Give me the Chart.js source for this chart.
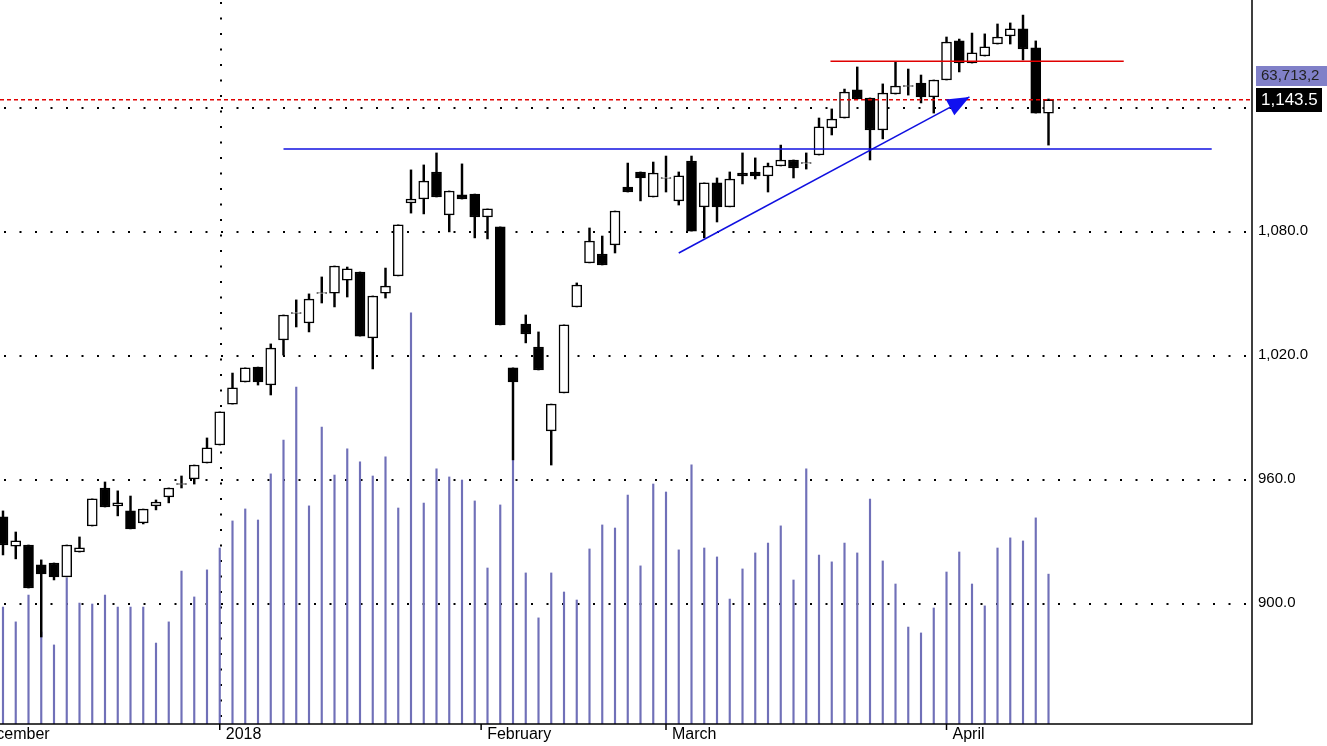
<!DOCTYPE html>
<html><head><meta charset="utf-8">
<script src="https://cdn.jsdelivr.net/npm/chart.js@4/dist/chart.umd.min.js"></script>
<style>html,body{margin:0;padding:0;background:#fff}#wrap{width:1327px;height:746px}</style>
</head><body><div id="wrap"><canvas id="c" width="1327" height="746"></canvas></div>
<script>
const opens=[941.7,927.6,928.1,918.5,919.4,912.7,924.7,937.3,955.7,947.0,944.6,938.8,947.0,951.4,957.4,960.1,967.8,976.5,996.3,1007.0,1014.2,1005.5,1027.3,1040.2,1035.5,1049.8,1050.0,1056.3,1060.2,1028.3,1050.0,1058.3,1093.6,1095.5,1108.6,1087.8,1097.5,1097.9,1086.8,1082.0,1013.8,1035.0,1023.9,983.3,1001.7,1043.3,1064.6,1068.9,1073.3,1101.3,1108.6,1096.5,1105.5,1094.6,1113.9,1091.7,1103.3,1091.7,1108.1,1108.6,1106.7,1111.5,1114.4,1112.7,1116.8,1129.9,1134.7,1148.3,1144.4,1128.9,1146.3,1150.0,1151.6,1144.9,1153.1,1172.0,1161.3,1164.7,1170.5,1174.4,1177.8,1168.6,1137.1];
const highs=[944.6,934.4,928.1,920.9,919.4,928.1,932.0,950.4,958.6,954.3,951.8,945.5,949.9,955.7,961.5,966.8,979.9,992.5,1011.3,1013.8,1014.2,1025.4,1039.4,1046.7,1049.6,1057.8,1063.1,1062.6,1060.2,1048.6,1062.1,1083.0,1109.6,1112.0,1117.8,1099.4,1112.5,1097.9,1090.7,1082.0,1013.8,1039.4,1031.2,996.3,1034.6,1054.9,1081.5,1077.6,1089.7,1112.9,1108.6,1113.4,1116.3,1108.6,1116.3,1103.3,1105.7,1108.6,1117.8,1115.4,1112.9,1121.6,1114.4,1117.8,1134.7,1139.1,1148.7,1159.4,1144.4,1151.2,1161.8,1158.4,1155.5,1153.1,1173.9,1172.9,1175.8,1175.4,1180.2,1180.7,1184.5,1172.0,1143.9];
const lows=[923.3,921.4,907.3,883.6,911.2,912.7,924.7,937.3,946.5,942.2,935.9,938.3,945.1,948.5,955.7,957.6,967.8,976.5,996.3,1007.0,1005.5,1000.7,1020.0,1033.6,1031.2,1045.2,1043.3,1048.1,1029.2,1013.3,1047.6,1058.3,1088.7,1088.3,1096.5,1079.6,1095.5,1076.7,1076.2,1034.6,969.3,1025.9,1012.8,966.8,1001.7,1043.3,1064.6,1063.6,1069.4,1098.9,1094.6,1096.5,1098.9,1092.6,1080.0,1076.7,1084.4,1091.7,1102.8,1105.2,1098.9,1111.5,1105.7,1110.0,1116.8,1126.5,1134.7,1143.9,1114.4,1124.6,1146.3,1145.8,1142.0,1137.1,1153.1,1157.0,1161.3,1164.7,1170.5,1170.5,1162.8,1137.1,1121.6];
const closes=[928.1,930.1,907.3,914.1,912.7,928.1,926.7,950.4,946.5,948.5,935.9,945.5,948.9,955.7,957.8,966.8,975.1,992.5,1004.1,1013.8,1007.0,1023.4,1039.4,1040.6,1047.1,1050.2,1063.1,1061.7,1029.2,1048.6,1053.4,1083.0,1095.5,1104.2,1096.5,1099.4,1095.5,1086.8,1090.7,1034.6,1007.0,1030.2,1012.8,996.3,1034.6,1053.9,1075.2,1063.6,1089.7,1098.9,1105.7,1108.1,1105.9,1106.7,1080.0,1103.3,1091.7,1105.2,1106.7,1106.7,1111.5,1114.4,1110.5,1113.1,1130.4,1134.2,1147.3,1143.9,1128.9,1146.8,1150.2,1150.4,1144.9,1153.1,1171.5,1161.3,1166.2,1169.1,1173.9,1177.8,1168.1,1137.1,1143.5];
const volumes=[49.7,43.4,54.8,39.1,33.6,62.1,51.4,51.0,54.8,49.7,49.7,49.7,34.4,43.4,65.0,54.0,65.5,74.8,86.3,91.4,86.7,106.3,120.7,143.2,92.7,126.2,105.8,116.9,111.4,105.4,113.5,91.8,174.7,93.9,108.4,105.0,103.7,94.8,66.3,93.1,112.2,64.2,45.1,64.2,56.1,52.7,74.4,84.6,83.3,97.3,67.2,102.0,98.6,74.0,110.1,74.8,71.0,53.1,65.9,72.7,76.9,84.2,61.2,108.4,71.8,68.9,76.9,72.7,95.6,69.3,59.5,41.2,38.7,49.3,64.6,73.1,59.5,50.2,74.8,79.1,77.8,87.6,63.7];
const monthLabels=["December","2018","February","March","April"];
const monthTickIdx=[-2.6,17,37.5,52,74];
const priceTicks=[900,960,1020,1080,1140];
const lastVolumeLabel="63,713,2";
const lastPriceLabel="1,143.5";
const lastPrice=1143.5;
const resistanceLevel=1162.2, supportLevel=1119.7;
const trendFrom=[53.0,1069.4], trendTo=[75.8,1144.9];

const idx=opens.map((_,i)=>i);
const bodies=idx.map(i=>({x:i,y:[opens[i],closes[i]]}));
const wicks=idx.map(i=>({x:i,y:[lows[i],highs[i]]}));
const vols=idx.map(i=>({x:i,y:volumes[i]}));
const bodyColors=idx.map(i=>closes[i]>=opens[i]?'#ffffff':'#000000');

const deco={id:'deco',
 beforeDatasetsDraw(ch){const c=ch.ctx,a=ch.chartArea,x=ch.scales.x,y=ch.scales.y;
  c.save();c.fillStyle='#000';
  priceTicks.forEach(v=>{const py=Math.round(y.getPixelForValue(v));for(let px=4;px<a.right;px+=15.5)c.fillRect(px,py,2,2);});
  const vx=Math.round(x.getPixelForValue(17));for(let py=2;py<a.bottom;py+=15.5)c.fillRect(vx,py,2,2);
  c.restore();},
 afterDatasetsDraw(ch){const c=ch.ctx,a=ch.chartArea,x=ch.scales.x,y=ch.scales.y;
  c.save();
  c.strokeStyle='#e00000';c.lineWidth=1.5;c.setLineDash([4,3]);
  let py=y.getPixelForValue(lastPrice);c.beginPath();c.moveTo(a.left,py);c.lineTo(a.right,py);c.stroke();c.setLineDash([]);
  c.strokeStyle='#1010e0';c.lineWidth=1.5;py=y.getPixelForValue(supportLevel);
  c.beginPath();c.moveTo(x.getPixelForValue(22),py);c.lineTo(x.getPixelForValue(94.8),py);c.stroke();
  c.strokeStyle='#e00000';py=y.getPixelForValue(resistanceLevel);
  c.beginPath();c.moveTo(x.getPixelForValue(64.9),py);c.lineTo(x.getPixelForValue(87.9),py);c.stroke();
  const x1=x.getPixelForValue(trendFrom[0]),y1=y.getPixelForValue(trendFrom[1]),x2=x.getPixelForValue(trendTo[0]),y2=y.getPixelForValue(trendTo[1]);
  c.strokeStyle='#1010e0';c.beginPath();c.moveTo(x1,y1);c.lineTo(x2,y2);c.stroke();
  const ang=Math.atan2(y2-y1,x2-x1),L=22,W=9;c.fillStyle='#1010f0';c.beginPath();c.moveTo(x2,y2);
  c.lineTo(x2-L*Math.cos(ang)+W*Math.sin(ang),y2-L*Math.sin(ang)-W*Math.cos(ang));
  c.lineTo(x2-L*Math.cos(ang)-W*Math.sin(ang),y2-L*Math.sin(ang)+W*Math.cos(ang));c.closePath();c.fill();
  c.strokeStyle='#000';c.lineWidth=1.5;c.beginPath();c.moveTo(a.right,0);c.lineTo(a.right,a.bottom);c.lineTo(0,a.bottom);c.stroke();
  c.font='16px "Liberation Sans", Arial, sans-serif';c.fillStyle='#000';c.textBaseline='top';
  monthLabels.forEach((m,i)=>{const px=x.getPixelForValue(monthTickIdx[i]);c.beginPath();c.moveTo(px,a.bottom);c.lineTo(px,a.bottom+6);c.stroke();c.fillText(m,px+6,a.bottom+3);});
  c.font='15px "Liberation Sans", Arial, sans-serif';c.textBaseline='middle';
  priceTicks.forEach(v=>{if(v===1140)return;const p=y.getPixelForValue(v);c.fillText(v.toLocaleString('en-US',{minimumFractionDigits:1}),a.right+6,p);});
  c.fillStyle='#8080c8';c.fillRect(a.right+4,66,75,20);c.fillStyle='#222';c.fillText(lastVolumeLabel,a.right+9,76);
  c.fillStyle='#000';c.fillRect(a.right+4,88,66,24);c.fillStyle='#fff';c.font='17px "Liberation Sans", Arial, sans-serif';c.fillText(lastPriceLabel,a.right+9,100);
  c.restore();}
};

new Chart(document.getElementById('c'),{
 type:'bar',
 data:{datasets:[
  {data:bodies,backgroundColor:bodyColors,borderColor:'#000',borderWidth:1.5,borderSkipped:false,barThickness:10,grouped:false,order:1,yAxisID:'y'},
  {data:wicks,backgroundColor:'#000',borderWidth:0,barThickness:1.8,grouped:false,order:2,yAxisID:'y'},
  {data:vols,backgroundColor:'#7070b8',borderWidth:0,barThickness:1.5,grouped:false,order:3,yAxisID:'v'}
 ]},
 options:{responsive:false,animation:false,devicePixelRatio:1,
  layout:{padding:{left:0,right:75,top:0,bottom:22}},
  plugins:{legend:{display:false},tooltip:{enabled:false}},
  scales:{
   x:{type:'linear',min:-0.235,max:97.96,offset:false,grid:{offset:false},display:false},
   y:{min:841.5,max:1191.8,display:false},
   v:{min:0,max:307.7,display:false}
  }},
 plugins:[deco]
});
</script></body></html>
